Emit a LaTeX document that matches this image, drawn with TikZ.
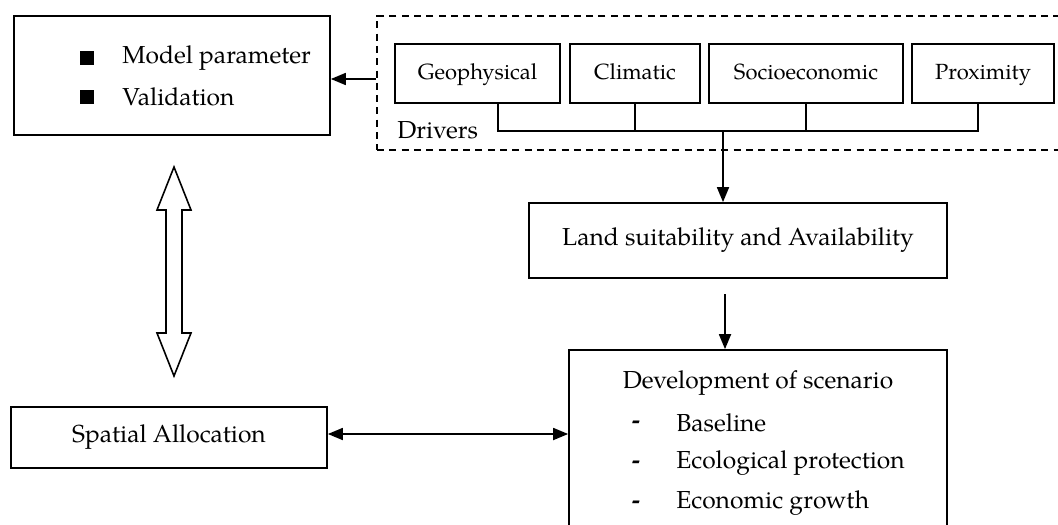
\documentclass[tikz,border=0pt]{standalone}
\usepackage{fontspec}
\setmainfont{TeX Gyre Pagella}
\usetikzlibrary{arrows.meta}
\tikzset{
  box/.style={draw, line width=1pt, inner sep=0pt, font=\fontsize{14}{16}\selectfont},
  drv/.style={box, minimum height=1.18cm, text height=0.9em, text depth=0.2em, font=\fontsize{12.5}{14}\selectfont},
  arr/.style={line width=1pt, -{Triangle[length=0.3cm, width=0.24cm]}},
  arrboth/.style={line width=1pt, {Triangle[length=0.3cm, width=0.24cm]}-{Triangle[length=0.3cm, width=0.24cm]}},
  bullet/.style={fill, minimum size=0.27cm, inner sep=0pt},
  txt/.style={font=\fontsize{14}{16}\selectfont, inner sep=0pt},
}
\begin{document}
\begin{tikzpicture}[x=0.02cm, y=-0.02cm]
    \useasboundingbox (0, 0) rectangle (1058, 524);
    \clip (0, 0) rectangle (1058, 524);
    % model box
    \node[box, minimum width=6.32cm, minimum height=2.38cm] (params) at(172, 75.5) {};
    \node[bullet] (b1) at(87, 58) {};
    \node[bullet] (b2) at(87, 97) {};
    \node[txt, anchor=west] (param) at(122, 58) {Model parameter};
    \node[txt, anchor=west] (valid) at(122, 97) {Validation};
    % drivers
    \node[box, dash pattern=on 4pt off 3pt, minimum width=13.86cm, minimum height=2.68cm] (drivers) at(723.5, 83) {};
    \node[drv, minimum width=3.3cm] (geo) at(477.5, 73.5) {Geophysical};
    \node[drv, minimum width=2.6cm] (clim) at(635, 73.5) {Climatic};
    \node[drv, minimum width=3.88cm] (socio) at(806, 73.5) {Socioeconomic};
    \node[drv, minimum width=2.84cm] (prox) at(983, 73.5) {Proximity};
    \node[txt, anchor=west] (drvlabel) at(397, 130) {Drivers};
    \coordinate (busL) at(498, 131);
    \coordinate (busM) at(723, 131);
    \coordinate (busR) at(978, 131);
    \draw[line width=1pt] (geo.south -| busL) -- (busL) -- (busR) -- (prox.south -| busR);
    \draw[line width=1pt] (clim.south) -- (clim.south |- busL);
    \draw[line width=1pt] (socio.south) -- (socio.south |- busL);
    \draw[arr] (drivers.west |- 0, 79) -- (params.east |- 0, 79);
    % land and scenario
    \node[box, minimum width=8.36cm, minimum height=1.5cm] (land) at(738, 240.5) {Land suitability and Availability};
    \draw[arr] (busM) -- (busM |- land.north);
    \node[box, minimum width=7.56cm, minimum height=4.2cm] (dev) at(758, 455) {};
    \coordinate (gap) at(725, 294);
    \draw[arr] (gap) -- (gap |- dev.north);
    \node[txt] (devtitle) at(758, 383) {Development of scenario};
    \node[txt] (d1) at(636, 425) {\textbf{-}};
    \node[txt] (d2) at(636, 465) {\textbf{-}};
    \node[txt] (d3) at(636, 505) {\textbf{-}};
    \node[txt, anchor=west] (base) at(676, 423) {Baseline};
    \node[txt, anchor=west] (eco) at(676, 463) {Ecological protection};
    \node[txt, anchor=west] (grow) at(676, 503) {Economic growth};
    % spatial allocation
    \node[box, minimum width=6.32cm, minimum height=1.22cm] (spatial) at(169, 437.5) {Spatial Allocation};
    \draw[arrboth] (spatial.east |- 0, 434) -- (dev.west |- 0, 434);
    \draw[line width=0.9pt] (174, 167) -- (191, 210) -- (182, 210) -- (182, 333) -- (191, 333)
        -- (174, 376) -- (157, 333) -- (166, 333) -- (166, 210) -- (157, 210) -- cycle;
\end{tikzpicture}
\end{document}
